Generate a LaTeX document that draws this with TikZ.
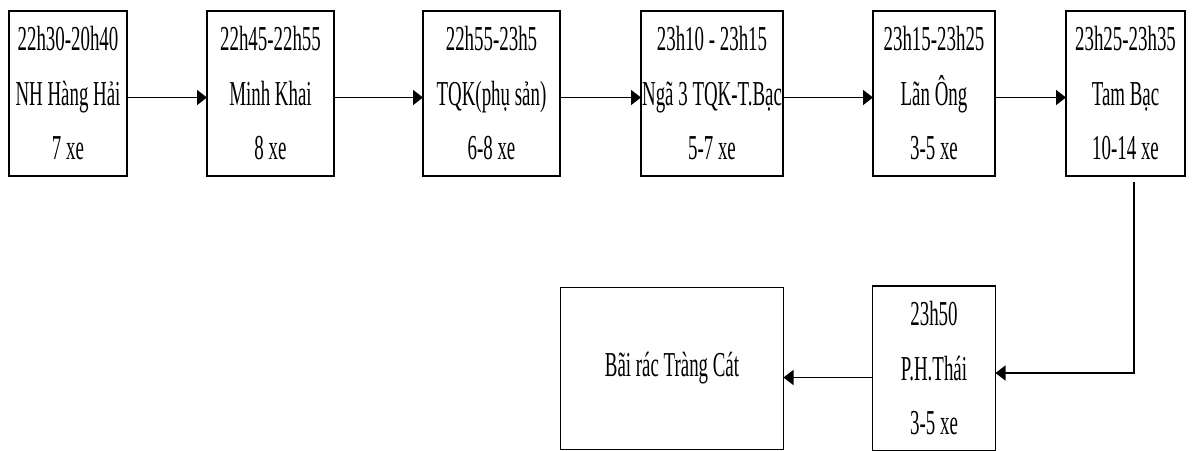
\documentclass[tikz,border=0pt]{standalone}
\usepackage{fontspec}
\setmainfont{Liberation Serif}[FakeStretch=0.54]
\usepackage{xcolor}
\usepackage{tikz}
\usetikzlibrary{arrows.meta, positioning}

\begin{document}
\begin{tikzpicture}[
  x=1pt, y=1pt,
  stopbox/.style={rectangle, draw=black, line width=1.2pt, inner sep=0pt,
                  outer sep=0pt, minimum height=165pt, align=center,
                  font=\fontsize{35pt}{54.5pt}\selectfont},
  arrow/.style={-{Triangle[length=10pt, width=15pt]}, line width=1.5pt}
]
\useasboundingbox (0,0) rectangle (1194,-450);

% top row
\node[stopbox, minimum width=118pt] at (68,-93.5) (b1) {%
  22h30-20h40\\ NH Hàng Hải\\ 7 xe};
\node[stopbox, minimum width=127pt, right=80pt of b1] (b2) {%
  22h45-22h55\\ Minh Khai\\ 8 xe};
\node[stopbox, minimum width=137pt, right=89pt of b2] (b3) {%
  22h55-23h5\\ TQK(phụ sản)\\ 6-8 xe};
\node[stopbox, minimum width=142pt, right=81pt of b3] (b4) {%
  23h10 - 23h15\\
  \makebox[0pt]{\setlength{\fboxsep}{0pt}\colorbox{white}{\rule[-14pt]{0pt}{55pt}Ngã 3 TQK-T.Bạc}}\\
  5-7 xe};
\node[stopbox, minimum width=122pt, right=90pt of b4] (b5) {%
  23h15-23h25\\ Lãn Ông\\ 3-5 xe};
\node[stopbox, minimum width=119pt, right=71pt of b5] (b6) {%
  23h25-23h35\\ Tam Bạc\\ 10-14 xe};

% bottom row
\node[stopbox, minimum width=123pt, below=110pt of b5] (b7) {%
  23h50\\ P.H.Thái\\ 3-5 xe};
\node[stopbox, minimum width=223pt, minimum height=162pt, left=89pt of b7] (b8) {%
  Bãi rác Tràng Cát};

\draw[arrow] ([yshift=-4pt]b1.east) -- ([yshift=-4pt]b2.west);
\draw[arrow] ([yshift=-4pt]b2.east) -- ([yshift=-4pt]b3.west);
\draw[arrow] ([yshift=-4pt]b3.east) -- ([yshift=-4pt]b4.west);
\draw[arrow] ([yshift=-4pt]b4.east) -- ([yshift=-4pt]b5.west);
\draw[arrow] ([yshift=-4pt]b5.east) -- ([yshift=-4pt]b6.west);
\draw[arrow] ([xshift=8.5pt, yshift=-6pt]b6.south) |- ([yshift=-4.5pt]b7.east);
\draw[arrow] ([yshift=-9pt]b7.west) -- ([yshift=-9pt]b8.east);
\end{tikzpicture}
\end{document}
